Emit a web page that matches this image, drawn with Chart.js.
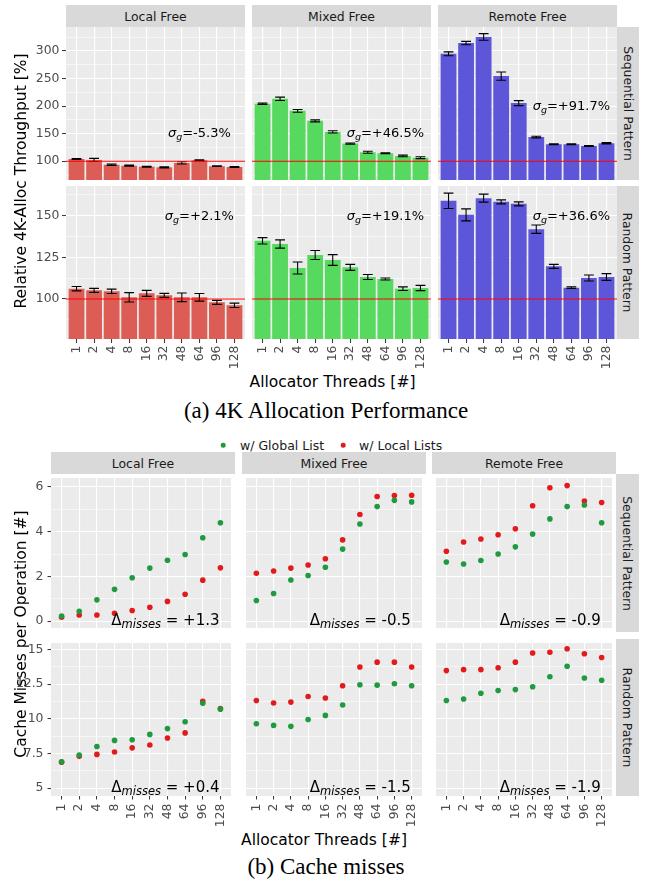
<!DOCTYPE html>
<html>
<head>
<meta charset="utf-8">
<title>4K allocation performance and cache misses</title>
<script src="https://cdn.jsdelivr.net/npm/chart.js@4.4.1/dist/chart.umd.min.js"></script>
<style>
  html, body { margin: 0; padding: 0; background: #fff; }
  body { position: relative; width: 646px; height: 879px; overflow: hidden; font-family: "DejaVu Sans", sans-serif; }
  canvas { position: absolute; }
  .strip { position: absolute; background: #d9d9d9; color: #1a1a1a; font-size: 12.4px; display: flex; align-items: center; justify-content: center; white-space: nowrap; }
  .strip .v { display: inline-block; transform: rotate(90deg); }
  .lbl { position: absolute; white-space: nowrap; transform: translate(-50%, -50%); color: #000; font-size: 15.5px; }
  .ytitle { position: absolute; white-space: nowrap; color: #000; font-size: 15.5px; transform: translate(-50%, -50%) rotate(-90deg); }
  .caption { position: absolute; white-space: nowrap; font-family: "Liberation Serif", serif; font-size: 23px; color: #000; transform: translate(-50%, -50%); }
  .legend { position: absolute; white-space: nowrap; font-size: 12.5px; color: #1a1a1a; transform: translateY(-50%); }
  .dot { position: absolute; width: 4.6px; height: 4.6px; border-radius: 50%; transform: translate(-50%, -50%); }
</style>
</head>
<body>
<script>
// thread counts on the x axis
const threads = ['1', '2', '4', '8', '16', '32', '48', '64', '96', '128'];

// (a) relative 4K-alloc throughput [%] and error half-widths
const seqLocal     = [104, 102.4, 93.8, 92, 90.2, 89, 97, 101.8, 91, 89.6];
const seqLocalErr  = [0.8, 2.8, 1.2, 1, 0.8, 1, 2, 1, 0.6, 0.8];
const seqMixed     = [204.2, 213.3, 191.5, 173.3, 153.3, 132, 116.4, 114.5, 109.6, 106.5];
const seqMixedErr  = [1.2, 3, 2.5, 1.8, 2, 1.2, 1.8, 0.8, 1.5, 1.8];
const seqRemote    = [295, 314.5, 325.5, 254.5, 205.5, 144, 131, 131, 127.8, 132.7];
const seqRemoteErr = [3.5, 3, 6, 7.5, 4.5, 1.5, 0.8, 0.8, 0.8, 1.2];
const rndLocal     = [106.2, 105.2, 104.6, 101, 103.4, 102.2, 101, 101, 98, 96.2];
const rndLocalErr  = [1.3, 1.2, 1.3, 2.8, 1.8, 1.2, 2.6, 2.3, 1.2, 1.3];
const rndMixed     = [134.9, 133, 118.6, 126.4, 123.4, 119, 113.2, 112, 106.2, 106.6];
const rndMixedErr  = [1.9, 2.5, 3.6, 2.7, 3.2, 1.8, 1.5, 0.6, 1.1, 1.6];
const rndRemote    = [158.9, 150.5, 160.5, 158.3, 157.1, 141.9, 119.6, 106.8, 112.6, 113.2];
const rndRemoteErr = [4.6, 3.6, 2.4, 1.2, 1.2, 2.5, 1.2, 0.5, 1.8, 2];
const sigmaLabels  = ['-5.3%', '+46.5%', '+91.7%', '+2.1%', '+19.1%', '+36.6%'];

// (b) cache misses per operation
const seqLocalGlobal  = [0.23, 0.44, 0.95, 1.42, 1.94, 2.37, 2.72, 2.98, 3.73, 4.40];
const seqLocalLocal   = [0.17, 0.27, 0.27, 0.35, 0.47, 0.62, 0.88, 1.20, 1.83, 2.38];
const seqMixedGlobal  = [0.92, 1.23, 1.84, 2.04, 2.41, 3.22, 4.34, 5.12, 5.40, 5.33];
const seqMixedLocal   = [2.14, 2.24, 2.37, 2.51, 2.79, 3.63, 4.77, 5.57, 5.62, 5.63];
const seqRemoteGlobal = [2.64, 2.55, 2.71, 3.00, 3.32, 3.89, 4.57, 5.12, 5.19, 4.40];
const seqRemoteLocal  = [3.12, 3.54, 3.67, 3.86, 4.13, 5.16, 5.96, 6.06, 5.37, 5.30];
const rndLocalGlobal  = [6.91, 7.40, 8.01, 8.45, 8.50, 8.88, 9.30, 9.79, 11.12, 10.70];
const rndLocalLocal   = [6.88, 7.30, 7.44, 7.61, 7.91, 8.12, 8.62, 8.99, 11.26, 10.75];
const rndMixedGlobal  = [9.65, 9.53, 9.46, 9.95, 10.25, 11.00, 12.46, 12.43, 12.53, 12.39];
const rndMixedLocal   = [11.33, 11.14, 11.21, 11.61, 11.50, 12.39, 13.74, 14.09, 14.09, 13.74];
const rndRemoteGlobal = [11.33, 11.43, 11.85, 12.04, 12.11, 12.32, 13.04, 13.79, 12.95, 12.78];
const rndRemoteLocal  = [13.48, 13.55, 13.55, 13.69, 14.09, 14.75, 14.80, 15.06, 14.70, 14.42];
const deltaLabels     = ['+1.3', '-0.5', '-0.9', '+0.4', '-1.5', '-1.9'];

// y tick values
const seqPctTicks  = [100, 150, 200, 250, 300];
const seqPctMinor  = [75, 125, 175, 225, 275, 325];
const rndPctTicks  = [100, 125, 150];
const rndPctMinor  = [87.5, 112.5, 137.5, 162.5];
const seqMissTicks = [0, 2, 4, 6];
const seqMissMinor = [1, 3, 5];
const rndMissTicks = [5, 7.5, 10, 12.5, 15];
const rndMissMinor = [6.25, 8.75, 11.25, 13.75];

const facetNames   = ['Local Free', 'Mixed Free', 'Remote Free'];
const patternNames = ['Sequential Pattern', 'Random Pattern'];
const BASELINE = 100;

const FONT = '"DejaVu Sans", sans-serif';
const BAR_COLORS = ['#dc5d56', '#56d95e', '#5e56d9'];
const GREEN = '#1f9a3f';
const RED = '#e31a1c';

Chart.defaults.font.family = FONT;
Chart.defaults.animation = false;

// panel background
const panelBg = {
    id: 'panelBg',
    beforeDraw(chart) {
        const { ctx, chartArea: a } = chart;
        ctx.save();
        ctx.fillStyle = '#ebebeb';
        ctx.fillRect(a.left, a.top, a.width, a.height);
        ctx.restore();
    }
};

// error bars + red 100% line
function barExtras(err) {
    return {
        id: 'barExtras',
        afterDatasetsDraw(chart) {
            const { ctx, chartArea: a, scales: { x, y } } = chart;
            const data = chart.data.datasets[0].data;
            const half = (x.getPixelForValue(1.28) - x.getPixelForValue(1)) ;
            ctx.save();
            ctx.strokeStyle = '#000';
            ctx.lineWidth = 1.1;
            data.forEach((d, i) => {
                const px = x.getPixelForValue(d.x);
                const t = y.getPixelForValue(d.y + err[i]);
                const b = y.getPixelForValue(d.y - err[i]);
                ctx.beginPath();
                ctx.moveTo(px, t); ctx.lineTo(px, b);
                ctx.moveTo(px - half, t); ctx.lineTo(px + half, t);
                ctx.moveTo(px - half, b); ctx.lineTo(px + half, b);
                ctx.stroke();
            });
            const py = y.getPixelForValue(BASELINE);
            ctx.strokeStyle = '#ff0000';
            ctx.lineWidth = 1;
            ctx.beginPath();
            ctx.moveTo(a.left, py); ctx.lineTo(a.right, py);
            ctx.stroke();
            ctx.restore();
        }
    };
}

// math-like label: parts drawn one after another
function mathLabel(parts, ax, ay, align) {
    return {
        id: 'mathLabel',
        afterDraw(chart) {
            const { ctx, scales: { x, y } } = chart;
            const cx = x.getPixelForValue(ax);
            const cy = y.getPixelForValue(ay);
            let total = 0;
            parts.forEach(p => {
                ctx.font = (p.italic ? 'italic ' : '') + p.size + 'px ' + FONT;
                p.w = ctx.measureText(p.t).width;
                total += p.w;
            });
            let px = align === 'right' ? cx - total : cx - total / 2;
            const base = cy + 0.365 * parts[0].size;
            ctx.save();
            ctx.fillStyle = '#000';
            ctx.textAlign = 'left';
            ctx.textBaseline = 'alphabetic';
            parts.forEach(p => {
                ctx.font = (p.italic ? 'italic ' : '') + p.size + 'px ' + FONT;
                ctx.fillText(p.t, px, base + (p.dy || 0));
                px += p.w;
            });
            ctx.restore();
        }
    };
}

function buildScales(o) {
    const isMajor = v => o.major.includes(v);
    return {
        x: {
            type: 'linear', min: 0.4, max: 10.6, offset: false,
            afterBuildTicks: ax => { ax.ticks = threads.map((t, i) => ({ value: i + 1 })); },
            afterFit: ax => { ax.height = o.showX ? o.xh : 0; ax.paddingLeft = 0; ax.paddingRight = 0; },
            ticks: {
                display: o.showX, autoSkip: false, minRotation: 90, maxRotation: 90,
                padding: o.tickPad, color: '#4d4d4d', font: { family: FONT, size: 12.4 },
                callback: v => threads[v - 1]
            },
            grid: { offset: false, color: '#ffffff', lineWidth: 1.1, drawTicks: o.showX, tickLength: o.tickLen, tickWidth: 1, tickColor: '#333333' },
            border: { display: false }
        },
        y: {
            type: 'linear', min: o.min, max: o.max,
            afterBuildTicks: ax => { ax.ticks = o.major.concat(o.minor).sort((a, b) => a - b).map(v => ({ value: v })); },
            afterFit: ax => { ax.width = o.showY ? o.yw : 0; ax.paddingTop = 0; ax.paddingBottom = 0; },
            ticks: {
                display: o.showY, autoSkip: false, padding: o.tickPad, color: '#4d4d4d',
                font: { family: FONT, size: 12.4 },
                callback: v => isMajor(v) ? String(v) : ''
            },
            grid: {
                color: '#ffffff',
                lineWidth: c => (c.tick && isMajor(c.tick.value)) ? 1.1 : 0.55,
                drawTicks: o.showY, tickLength: o.tickLen, tickWidth: 1,
                tickColor: c => (c.tick && isMajor(c.tick.value)) ? '#333333' : 'rgba(0,0,0,0)'
            },
            border: { display: false }
        }
    };
}

function addPanel(o, type, datasets, plugins) {
    const yw = o.showY ? o.yw : 0;
    const xh = o.showX ? o.xh : 0;
    const W = o.x1 - o.x0 + yw;
    const H = o.y1 - o.y0 + xh;
    const cv = document.createElement('canvas');
    cv.width = W; cv.height = H;
    cv.style.cssText = `left:${o.x0 - yw}px;top:${o.y0}px;width:${W}px;height:${H}px`;
    document.body.appendChild(cv);
    new Chart(cv, {
        type: type,
        data: { datasets: datasets },
        options: {
            responsive: false,
            animation: false,
            events: [],
            layout: { padding: 0 },
            plugins: { legend: { display: false }, tooltip: { enabled: false } },
            scales: buildScales(o)
        },
        plugins: [panelBg].concat(plugins)
    });
}

function addStrip(x0, y0, x1, y1, text, vertical) {
    const d = document.createElement('div');
    d.className = 'strip';
    d.style.cssText = `left:${x0}px;top:${y0}px;width:${x1 - x0}px;height:${y1 - y0}px`;
    const s = document.createElement('span');
    if (vertical) s.className = 'v';
    s.textContent = text;
    d.appendChild(s);
    document.body.appendChild(d);
}

function addText(cls, text, x, y) {
    const d = document.createElement('div');
    d.className = cls;
    d.textContent = text;
    d.style.left = x + 'px';
    d.style.top = y + 'px';
    document.body.appendChild(d);
}

const points = arr => arr.map((v, i) => ({ x: i + 1, y: v }));

// ---------- (a) bars ----------
const figA = { cols: [[66, 245], [252, 431], [438, 617]], rows: [[27, 180], [186, 339]], strip: [5, 27], right: 639 };
const barSeries = [[seqLocal, seqMixed, seqRemote], [rndLocal, rndMixed, rndRemote]];
const barErrors = [[seqLocalErr, seqMixedErr, seqRemoteErr], [rndLocalErr, rndMixedErr, rndRemoteErr]];
const pctAxes = [
    { min: 66, max: 343.6, major: seqPctTicks, minor: seqPctMinor },
    { min: 76, max: 167.8, major: rndPctTicks, minor: rndPctMinor }
];
const sigmaY = [[152, 152, 202], [150.5, 150.5, 150.5]];

figA.rows.forEach((row, r) => {
    figA.cols.forEach((col, c) => {
        const o = Object.assign({
            x0: col[0], x1: col[1], y0: row[0], y1: row[1],
            showY: c === 0, showX: r === 1, yw: 40, xh: 34, tickLen: 4, tickPad: 2.5
        }, pctAxes[r]);
        const ds = [{
            data: points(barSeries[r][c]),
            backgroundColor: BAR_COLORS[c],
            borderWidth: 0,
            barPercentage: 0.9,
            categoryPercentage: 1
        }];
        const label = mathLabel([
            { t: 'σ', size: 13, italic: true },
            { t: 'g', size: 9.5, italic: true, dy: 3 },
            { t: '=' + sigmaLabels[r * 3 + c], size: 13 }
        ], 8, sigmaY[r][c], 'center');
        addPanel(o, 'bar', ds, [barExtras(barErrors[r][c]), label]);
    });
    addStrip(617, row[0], figA.right, row[1], patternNames[r], true);
});
figA.cols.forEach((col, c) => addStrip(col[0], figA.strip[0], col[1], figA.strip[1], facetNames[c], false));

// ---------- (b) scatter ----------
const figB = { cols: [[51, 235], [242, 426], [432, 616]], rows: [[474, 632], [639, 796]], strip: [452, 474], right: 639 };
const globalSeries = [[seqLocalGlobal, seqMixedGlobal, seqRemoteGlobal], [rndLocalGlobal, rndMixedGlobal, rndRemoteGlobal]];
const localSeries = [[seqLocalLocal, seqMixedLocal, seqRemoteLocal], [rndLocalLocal, rndMixedLocal, rndRemoteLocal]];
const missAxes = [
    { min: -0.31, max: 6.4, major: seqMissTicks, minor: seqMissMinor },
    { min: 4.44, max: 15.47, major: rndMissTicks, minor: rndMissMinor }
];
const deltaY = [0.05, 5.14];

figB.rows.forEach((row, r) => {
    figB.cols.forEach((col, c) => {
        const o = Object.assign({
            x0: col[0], x1: col[1], y0: row[0], y1: row[1],
            showY: c === 0, showX: r === 1, yw: 40, xh: 34, tickLen: 3.5, tickPad: 4
        }, missAxes[r]);
        const ds = [
            { data: points(globalSeries[r][c]), backgroundColor: GREEN, borderWidth: 0, pointRadius: 2.8 },
            { data: points(localSeries[r][c]), backgroundColor: RED, borderWidth: 0, pointRadius: 2.8 }
        ];
        const label = mathLabel([
            { t: 'Δ', size: 15 },
            { t: 'misses', size: 11.5, italic: true, dy: 3 },
            { t: ' = ' + deltaLabels[r * 3 + c], size: 15 }
        ], 9.95, deltaY[r], 'right');
        addPanel(o, 'scatter', ds, [label]);
    });
    addStrip(616, row[0], figB.right, row[1], patternNames[r], true);
});
figB.cols.forEach((col, c) => addStrip(col[0], figB.strip[0], col[1], figB.strip[1], facetNames[c], false));

// ---------- titles, legend, captions ----------
addText('ytitle', 'Relative 4K-Alloc Throughput [%]', 21, 181);
addText('lbl', 'Allocator Threads [#]', 332.5, 382);
addText('caption', '(a) 4K Allocation Performance', 326, 411);

addText('ytitle', 'Cache Misses per Operation [#]', 21, 634);
addText('lbl', 'Allocator Threads [#]', 324, 840);
addText('caption', '(b) Cache misses', 326, 867);

const legendItems = [['w/ Global List', GREEN, 223.3, 240], ['w/ Local Lists', RED, 343.3, 359]];
legendItems.forEach(([text, color, dx, tx]) => {
    const d = document.createElement('div');
    d.className = 'dot';
    d.style.cssText = `left:${dx}px;top:445.3px;background:${color}`;
    document.body.appendChild(d);
    addText('legend', text, tx, 445.3);
});
</script>
</body>
</html>
